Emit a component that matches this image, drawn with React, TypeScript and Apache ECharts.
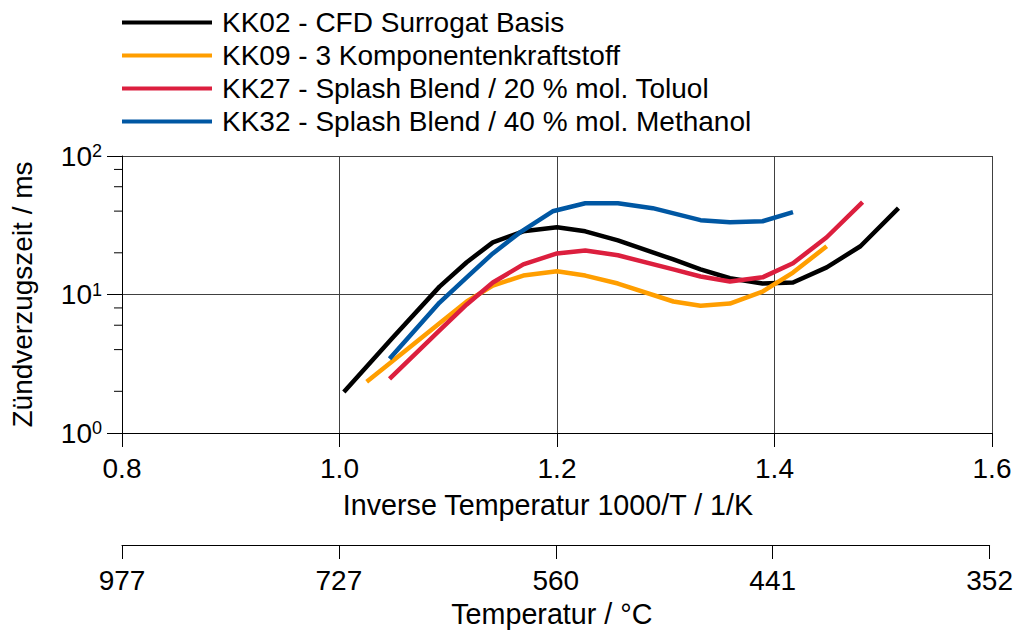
import React, { useEffect, useRef } from "react";
import * as echarts from "echarts";

const seriesNames = [
  "KK02 - CFD Surrogat Basis",
  "KK09 - 3 Komponentenkraftstoff",
  "KK27 - Splash Blend / 20 % mol. Toluol",
  "KK32 - Splash Blend / 40 % mol. Methanol",
];
const seriesColors = ["#000000", "#FF9E00", "#DC1F3E", "#0057A3"];

const invT_KK02 = [1.004, 1.048, 1.092, 1.117, 1.141, 1.169, 1.2, 1.226, 1.256, 1.307, 1.332, 1.359, 1.389, 1.417, 1.448, 1.479, 1.514];
const tau_KK02 = [1.98, 4.8, 11.4, 17.1, 23.8, 28.6, 30.6, 28.6, 24.6, 17.9, 15.2, 13.1, 12.0, 12.2, 15.7, 22.3, 42.0];

const invT_KK09 = [1.025, 1.048, 1.092, 1.117, 1.141, 1.169, 1.2, 1.226, 1.256, 1.307, 1.332, 1.359, 1.389, 1.417, 1.448];
const tau_KK09 = [2.34, 3.27, 6.2, 8.9, 11.6, 13.7, 14.7, 13.7, 12.0, 8.9, 8.3, 8.6, 10.5, 14.4, 22.3];

const invT_KK27 = [1.046, 1.092, 1.117, 1.141, 1.169, 1.2, 1.226, 1.256, 1.307, 1.332, 1.359, 1.389, 1.417, 1.448, 1.481];
const tau_KK27 = [2.46, 5.5, 8.47, 12.2, 16.5, 19.8, 20.8, 19.2, 15.2, 13.5, 12.4, 13.3, 16.8, 25.9, 46.4];

const invT_KK32 = [1.046, 1.092, 1.117, 1.141, 1.166, 1.196, 1.226, 1.256, 1.288, 1.332, 1.359, 1.389, 1.417];
const tau_KK32 = [3.44, 8.75, 13.3, 19.8, 28.1, 39.9, 45.6, 45.6, 42.0, 34.4, 33.2, 33.8, 39.3];

const minorTickValues = [2, 4, 6, 8, 20, 40, 60, 80];

const xTitle = "Inverse Temperatur 1000/T / 1/K";
const x2Title = "Temperatur / °C";
const yTitle = "Zündverzugszeit / ms";

const FONT = "'Liberation Sans', Arial, sans-serif";

const zip = (xs: number[], ys: number[]) => xs.map((x, i) => [x, ys[i]]);

export default function App() {
  const ref = useRef<HTMLDivElement>(null);
  useEffect(() => {
    if (!ref.current) return;
    const chart = echarts.init(ref.current, undefined, { renderer: "svg" });
    const data = [
      zip(invT_KK02, tau_KK02),
      zip(invT_KK09, tau_KK09),
      zip(invT_KK27, tau_KK27),
      zip(invT_KK32, tau_KK32),
    ];
    const lineSeries = data.map((d, i) => ({
      name: seriesNames[i],
      type: "line",
      xAxisIndex: 0,
      yAxisIndex: 0,
      data: d,
      symbol: "none",
      smooth: false,
      color: seriesColors[i],
      lineStyle: { color: seriesColors[i], width: 4.5, join: "round", cap: "butt" },
    }));
    const option: any = {
      animation: false,
      backgroundColor: "#ffffff",
      textStyle: { fontFamily: FONT },
      legend: {
        data: seriesNames,
        orient: "vertical",
        left: 122,
        top: 6,
        padding: 0,
        itemGap: 0,
        icon: "rect",
        itemWidth: 90,
        itemHeight: 4,
        textStyle: { fontFamily: FONT, fontSize: 28, color: "#000", lineHeight: 33, padding: [0, 0, 0, 5] },
      },
      grid: [
        { left: 122, right: 24, top: 156, bottom: 199, containLabel: false },
        { left: 122, right: 24, top: 545, height: 0, containLabel: false },
      ],
      xAxis: [
        {
          type: "value",
          gridIndex: 0,
          min: 0.8,
          max: 1.6,
          interval: 0.2,
          name: xTitle,
          nameLocation: "middle",
          nameGap: 57,
          nameTextStyle: { fontFamily: FONT, fontSize: 28.7, color: "#000", padding: [0, 18, 0, 0] },
          axisLine: { show: true, onZero: false, lineStyle: { color: "#000", width: 1 } },
          axisTick: { show: true, inside: false, length: 14, lineStyle: { color: "#000" } },
          axisLabel: {
            margin: 21,
            fontFamily: FONT,
            fontSize: 28,
            color: "#000",
            formatter: (v: number) => v.toFixed(1),
          },
          splitLine: { show: true, lineStyle: { color: "#404040", width: 1 } },
        },
        {
          type: "value",
          gridIndex: 1,
          min: 0.8,
          max: 1.6,
          interval: 0.2,
          name: x2Title,
          nameLocation: "middle",
          nameGap: 54,
          nameTextStyle: { fontFamily: FONT, fontSize: 28.7, color: "#000", padding: [0, 8, 0, 0] },
          axisLine: { show: true, onZero: false, lineStyle: { color: "#000", width: 1 } },
          axisTick: { show: true, inside: false, length: 14, lineStyle: { color: "#000" } },
          axisLabel: {
            margin: 21,
            fontFamily: FONT,
            fontSize: 28,
            color: "#000",
            formatter: (v: number) => String(Math.round(1000 / v - 273.15)),
          },
          splitLine: { show: false },
        },
      ],
      yAxis: [
        {
          type: "log",
          gridIndex: 0,
          logBase: 10,
          min: 1,
          max: 100,
          name: yTitle,
          nameLocation: "middle",
          nameGap: 86,
          nameTextStyle: { fontFamily: FONT, fontSize: 28, color: "#000" },
          axisLine: { show: true, onZero: false, lineStyle: { color: "#000", width: 1 } },
          axisTick: { show: true, inside: false, length: 15, lineStyle: { color: "#000" } },
          axisLabel: {
            margin: 20,
            fontFamily: FONT,
            color: "#000",
            formatter: (v: number) => `{b|10}{s|${Math.round(Math.log10(v))}}`,
            rich: {
              b: { fontFamily: FONT, fontSize: 28, color: "#000", lineHeight: 28 },
              s: { fontFamily: FONT, fontSize: 18, color: "#000", lineHeight: 18, verticalAlign: "top" },
            },
          },
          splitLine: { show: true, lineStyle: { color: "#404040", width: 1 } },
        },
        { type: "value", gridIndex: 1, show: false, min: 0, max: 1 },
      ],
      series: [
        ...lineSeries,
        {
          type: "custom",
          name: "minorTicks",
          xAxisIndex: 0,
          yAxisIndex: 0,
          silent: true,
          clip: false,
          data: minorTickValues.map((v) => [0.8, v]),
          renderItem: (params: any, api: any) => {
            const p = api.coord([api.value(0), api.value(1)]);
            return {
              type: "line",
              shape: { x1: p[0] - 8, y1: p[1], x2: p[0], y2: p[1] },
              style: { stroke: "#000", lineWidth: 1 },
            };
          },
        },
      ],
    };
    chart.setOption(option);
    return () => chart.dispose();
  }, []);
  return (
    <div
      ref={ref}
      style={{ position: "absolute", left: 0, top: 0, width: 1016, height: 632, background: "#fff" }}
    />
  );
}
